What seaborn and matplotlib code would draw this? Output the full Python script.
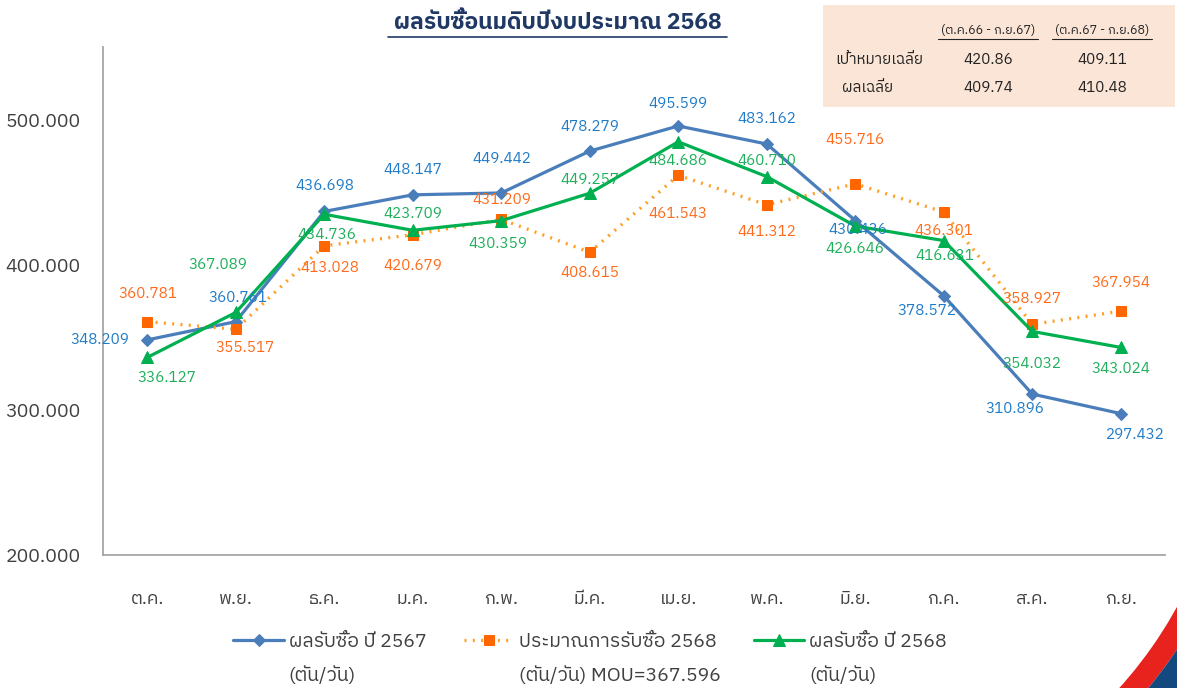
import numpy as np
import pandas as pd
import seaborn as sns
import matplotlib.pyplot as plt
from matplotlib import font_manager
from matplotlib.patches import Rectangle, Wedge
from matplotlib.lines import Line2D
from matplotlib.transforms import Affine2D

months = ['ต.ค.', 'พ.ย.', 'ธ.ค.', 'ม.ค.', 'ก.พ.', 'มี.ค.',
          'เม.ย.', 'พ.ค.', 'มิ.ย.', 'ก.ค.', 'ส.ค.', 'ก.ย.']
res_2567 = [348.209, 360.761, 436.698, 448.147, 449.442, 478.279,
            495.599, 483.162, 430.436, 378.572, 310.896, 297.432]
est_2568 = [360.781, 355.517, 413.028, 420.679, 431.209, 408.615,
            461.543, 441.312, 455.716, 436.301, 358.927, 367.954]
res_2568 = [336.127, 367.089, 434.736, 423.709, 430.359, 449.257,
            484.686, 460.710, 426.646, 416.631, 354.032, 343.024]

lbl_2567 = ['ผลรับซื้อ ปี 2567', '(ตัน/วัน)']
lbl_est = ['ประมาณการรับซื้อ 2568', '(ตัน/วัน) MOU=367.596']
lbl_2568 = ['ผลรับซื้อ ปี 2568', '(ตัน/วัน)']

tbl_head = ['(ต.ค.66 - ก.ย.67)', '(ต.ค.67 - ก.ย.68)']
tbl_rows = ['เป้าหมายเฉลี่ย', 'ผลเฉลี่ย']
tbl_vals = [['420.86', '409.11'], ['409.74', '410.48']]

# label offsets in pixels (dx, dy down)
off_2567 = [(-47, 0), (2, -24), (1, -25), (0, -25), (1, -34), (0, -24),
            (0, -22), (0, -25), (3, 9), (-17, 15), (-17, 15), (15, 21)]
off_est = [(1, -28), (9, 19), (6, 22), (0, 31), (1, -19), (0, 21),
           (0, 39), (0, 27), (0, -44), (0, 19), (0, -25), (0, -28)]
off_2568 = [(20, 21), (-18, -47), (3, 21), (0, -16), (-3, 23), (0, -13),
            (0, 19), (0, -16), (0, 23), (1, 15), (0, 33), (0, 22)]

sns.set_theme(style='white')
thai = [f.name for f in font_manager.fontManager.ttflist if 'Thai' in f.name]
plt.rcParams['font.family'] = sorted(set(thai)) + ['DejaVu Sans']

df = pd.DataFrame({'month': months, 'r67': res_2567, 'e68': est_2568, 'r68': res_2568})

fig = plt.figure(figsize=(11.77, 6.88), dpi=100)
px = Affine2D().scale(1 / 1177, 1 / 688) + fig.transFigure

# corner swoosh
fig.add_artist(Wedge((800, 288), 452, -55, -15, width=22, transform=px,
                     facecolor='#E8221C', edgecolor='none'))
fig.add_artist(Wedge((800, 288), 480, -55, -15, width=28, transform=px,
                     facecolor='#13497F', edgecolor='none'))

ax = fig.add_axes([103 / 1177, 1 - 555 / 688, 1062 / 1177, 508 / 688])
ax.patch.set_alpha(0)

blue, blue_t = '#4A7EBB', '#1F7BC8'
org, org_l, org_t = '#FF6600', '#FFA024', '#FF6A1A'
grn, grn_t = '#00B050', '#1DAF5A'

sns.lineplot(data=df, x='month', y='r67', ax=ax, color=blue, lw=2.3,
             marker='D', ms=6.5, mec=blue, label=lbl_2567[0], sort=False)
sns.lineplot(data=df, x='month', y='e68', ax=ax, color=org_l, lw=2.4,
             ls=(0, (0.6, 1.9)), marker='s', ms=6.5, mfc=org, mec=org,
             label=lbl_est[0], sort=False)
sns.lineplot(data=df, x='month', y='r68', ax=ax, color=grn, lw=2.3,
             marker='^', ms=9, mec=grn, label=lbl_2568[0], sort=False)

for vals, offs, c in [(res_2567, off_2567, blue_t), (est_2568, off_est, org_t),
                      (res_2568, off_2568, grn_t)]:
    for i, (v, (dx, dy)) in enumerate(zip(vals, offs)):
        ax.annotate(f'{v:.3f}', (i, v), xytext=(dx, -dy), textcoords='offset pixels',
                    ha='center', va='center', fontsize=11, color=c)

ax.set_xlim(-0.5, 11.5)
ax.set_ylim(200, 550)
ax.set_yticks([200, 300, 400, 500])
ax.set_yticklabels([f'{t:.3f}' for t in [200, 300, 400, 500]])
ax.set_xticks(range(12))
ax.set_xticklabels(months)
ax.set_xticks(np.arange(0.5, 12, 1), minor=True)
ax.tick_params(axis='x', which='major', length=0, pad=25, labelsize=13, colors='#404040')
ax.tick_params(axis='x', which='minor', length=7, color='#A6A6A6', width=1.2, direction='out')
ax.tick_params(axis='y', length=5, width=1.2, color='#A6A6A6', labelsize=14,
               colors='#404040', pad=11)
for s in ['top', 'right']:
    ax.spines[s].set_visible(False)
for s in ['left', 'bottom']:
    ax.spines[s].set_color('#A6A6A6')
    ax.spines[s].set_linewidth(1.3)
ax.set_xlabel('')
ax.set_ylabel('')

h, l = ax.get_legend_handles_labels()
ax.get_legend().remove()
leg = fig.legend(h, l, loc='center', bbox_to_anchor=(590 / 1177, 1 - 642 / 688), ncol=3,
                 frameon=False, fontsize=14, handlelength=2.6, columnspacing=1.9,
                 handletextpad=0.25, labelcolor='#404040')
fig.canvas.draw()
inv = fig.transFigure.inverted()
for t, second in zip(leg.get_texts(), [lbl_2567[1], lbl_est[1], lbl_2568[1]]):
    x0 = inv.transform(t.get_window_extent().p0)[0]
    fig.text(x0, 1 - 676 / 688, second, ha='left', va='center', fontsize=14, color='#404040')

# title
fig.text(558 / 1177, 1 - 22 / 688, 'ผลรับซื้อนมดิบปีงบประมาณ 2568', ha='center', va='center',
         fontsize=16.5, fontweight='bold', color='#1F3864')
fig.add_artist(Line2D([388 / 1177, 727 / 1177], [1 - 37 / 688] * 2, color='#1F3864', lw=1.2))

# summary box
fig.add_artist(Rectangle((823 / 1177, 1 - 107 / 688), 352 / 1177, 102 / 688,
                         facecolor='#FBE5D6', edgecolor='none', transform=fig.transFigure))
for x, t in zip([988, 1102], tbl_head):
    fig.text(x / 1177, 1 - 31 / 688, t, ha='center', va='center', fontsize=9, color='#222222')
    fig.add_artist(Line2D([(x - 50) / 1177, (x + 50) / 1177], [1 - 39 / 688] * 2,
                          color='#222222', lw=0.8))
for y, x, r, vals in zip([60, 88], [835, 842], tbl_rows, tbl_vals):
    fig.text(x / 1177, 1 - y / 688, r, ha='left', va='center', fontsize=11, color='#222222')
    for xv, v in zip([988, 1102], vals):
        fig.text(xv / 1177, 1 - y / 688, v, ha='center', va='center', fontsize=11, color='#222222')

fig.savefig('out.png', dpi=100)
